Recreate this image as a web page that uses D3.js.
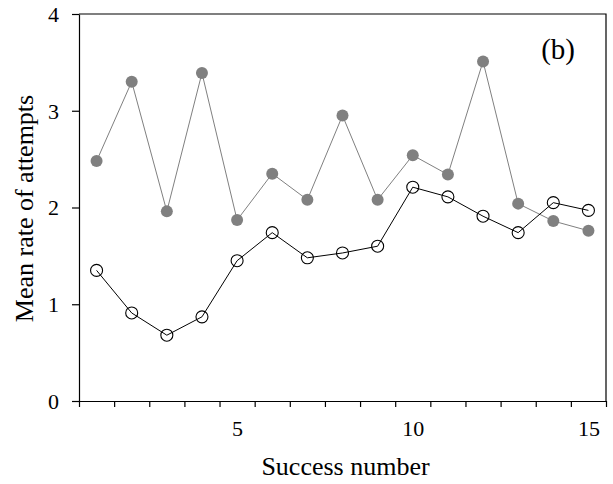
<!DOCTYPE html>
<html>
<head>
<meta charset="utf-8">
<script src="https://cdn.jsdelivr.net/npm/d3@7"></script>
<style>
  body { margin: 0; background: #fff; }
  svg text { font-family: "Liberation Serif", "Times New Roman", serif; fill: #000; }
</style>
</head>
<body>
<svg id="chart" width="613" height="484"></svg>
<script>
// Success numbers 1..15
const successNumbers = [1, 2, 3, 4, 5, 6, 7, 8, 9, 10, 11, 12, 13, 14, 15];
// Filled grey series
const filledSeries = [2.48, 3.30, 1.96, 3.39, 1.87, 2.35, 2.08, 2.95, 2.08, 2.54, 2.34, 3.51, 2.04, 1.86, 1.76];
// Open black series
const openSeries = [1.35, 0.91, 0.68, 0.87, 1.45, 1.74, 1.48, 1.53, 1.60, 2.21, 2.11, 1.91, 1.74, 2.05, 1.97];
const yTicks = [0, 1, 2, 3, 4];
const xLabelTicks = [5, 10, 15];

const serif = "Liberation Serif";
const svg = d3.select("#chart");
const m = { left: 79, right: 606, top: 14, bottom: 401 };

const x = d3.scaleLinear().domain([0.5, 15.5]).range([m.left, m.right]);
const y = d3.scaleLinear().domain([0, 4]).range([m.bottom, m.top]);

// frame (top and right edges)
svg.append("path")
  .attr("d", `M${m.left},${m.top}H${m.right}V${m.bottom}`)
  .attr("fill", "none").attr("stroke", "#000").attr("stroke-width", 1.2);

// y axis
const gy = svg.append("g").attr("transform", `translate(${m.left},0)`)
  .call(d3.axisLeft(y).tickValues(yTicks).tickSize(7).tickSizeOuter(0).tickPadding(13).tickFormat(d3.format("d")));
gy.selectAll("text").attr("dy", "0.34em");

// x axis: minor ticks on category boundaries
const boundaries = d3.range(0.5, 15.6, 1);
svg.append("g").attr("transform", `translate(0,${m.bottom})`)
  .call(d3.axisBottom(x).tickValues(boundaries).tickSize(6).tickSizeOuter(0).tickFormat(""));
// x labels at 5, 10, 15
const gxl = svg.append("g").attr("transform", `translate(0,${m.bottom})`)
  .call(d3.axisBottom(x).tickValues(xLabelTicks).tickSize(0).tickPadding(19).tickFormat(d3.format("d")));
gxl.select(".domain").remove();

svg.selectAll(".tick text")
  .style("font-family", serif).style("font-size", "22px").style("fill", "#000");
svg.selectAll(".domain, .tick line").attr("stroke", "#000").attr("stroke-width", 1.2);

// axis titles
svg.append("text").attr("x", (m.left + m.right) / 2 + 3).attr("y", 475)
  .attr("text-anchor", "middle").style("font-size", "26px").text("Success number");
svg.append("text").attr("transform", `translate(33,${(m.top + m.bottom) / 2 + 1}) rotate(-90)`)
  .attr("text-anchor", "middle").style("font-size", "26px").text("Mean rate of attempts");

// panel tag
svg.append("text").attr("x", 575).attr("y", 59).attr("text-anchor", "end")
  .style("font-size", "29px").text("(b)");

const line = d3.line().x((d, i) => x(successNumbers[i])).y(d => y(d));

// grey filled series
svg.append("path").datum(filledSeries).attr("d", line)
  .attr("fill", "none").attr("stroke", "#808080").attr("stroke-width", 1);
svg.append("g").selectAll("circle").data(filledSeries).join("circle")
  .attr("cx", (d, i) => x(successNumbers[i])).attr("cy", d => y(d))
  .attr("r", 6).attr("fill", "#808080");

// black open series
svg.append("path").datum(openSeries).attr("d", line)
  .attr("fill", "none").attr("stroke", "#000").attr("stroke-width", 1);
svg.append("g").selectAll("circle").data(openSeries).join("circle")
  .attr("cx", (d, i) => x(successNumbers[i])).attr("cy", d => y(d))
  .attr("r", 6).attr("fill", "none").attr("stroke", "#000").attr("stroke-width", 1.1);
</script>
</body>
</html>
